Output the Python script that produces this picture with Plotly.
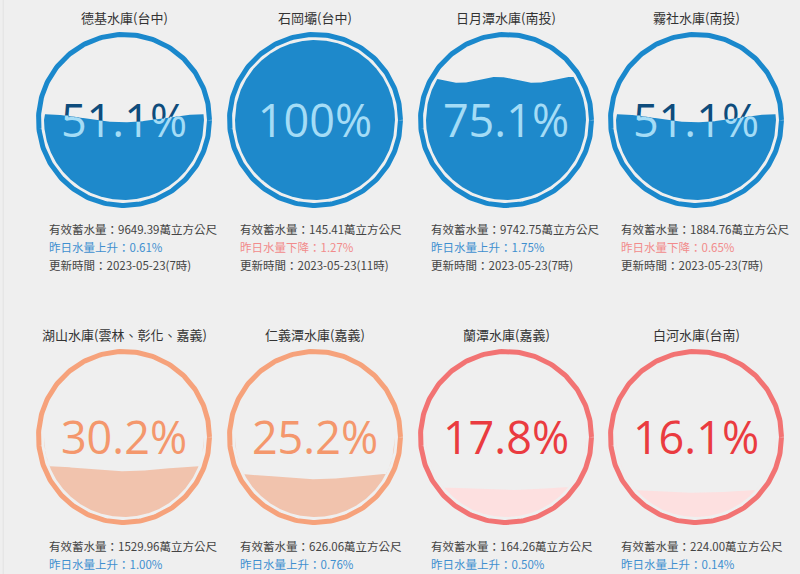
import numpy as np
import plotly.graph_objects as go

# ---------------- data ----------------
names = ["德基水庫(台中)", "石岡壩(台中)", "日月潭水庫(南投)", "霧社水庫(南投)",
         "湖山水庫(雲林、彰化、嘉義)", "仁義潭水庫(嘉義)", "蘭潭水庫(嘉義)", "白河水庫(台南)"]
percent = [51.1, 100, 75.1, 51.1, 30.2, 25.2, 17.8, 16.1]
storage = ["9649.39", "145.41", "9742.75", "1884.76", "1529.96", "626.06", "164.26", "224.00"]
change_dir = ["上升", "下降", "上升", "下降", "上升", "上升", "上升", "上升"]
change_pct = ["0.61", "1.27", "1.75", "0.65", "1.00", "0.76", "0.50", "0.14"]
updated = ["2023-05-23(7時)", "2023-05-23(11時)", "2023-05-23(7時)", "2023-05-23(7時)",
           None, None, None, None]

# ---------------- style ----------------
W, H = 800, 574
BG = "#efefef"
COL_X = [124, 315, 506, 696]
ROW_Y = [120, 437]
R_RING = 85.5
RING_W = 5
R_FILL = 80
# wave style per gauge: (amplitude px, wavelength px, phase)
WAVES = [(4, 160, 0.0), (4, 160, 0.0), (3, 75, 0.3), (4, 160, 0.0),
         (2.5, 160, 0.0), (2.5, 160, 0.0), (1.5, 160, 0.0), (1.5, 160, 0.0)]
THEMES = {
    "blue": dict(ring="#1a88cc", fill="#1e89cb", above="#0e4c7c", below="#a4dcf6"),
    "orange": dict(ring="#f6a27b", fill="#f1c3ad", above="#f4976c", below="#ffffff"),
    "red": dict(ring="#f27373", fill="#fde0e0", above="#ea3b40", below="#ffffff"),
}
UP_COL = "#3f8fcf"
DOWN_COL = "#f28b8b"
TXT_COL = "#444444"
PCT_FONT = "Open Sans, Noto Sans, sans-serif"
CJK_FONT = "Noto Sans CJK TC, sans-serif"
PCT_SIZE = 45
TEXT_DY = 6


def theme_for(p):
    if p >= 50:
        return THEMES["blue"]
    if p >= 20:
        return THEMES["orange"]
    return THEMES["red"]


def wave_y(x, cx, cy, p, wv):
    amp, wl, ph = wv
    level = cy + R_FILL - 2 * R_FILL * p / 100.0
    if p >= 100:
        return np.full_like(x, cy - R_FILL - 10, dtype=float)
    return level - amp * np.cos(2 * np.pi * (x - (cx - R_FILL)) / wl + ph)


fig = go.Figure()
annotations = []
axis_k = [2]
extra_axes = {}

for i, name in enumerate(names):
    cx = COL_X[i % 4]
    cy = ROW_Y[i // 4]
    p = percent[i]
    th = theme_for(p)
    wv = WAVES[i]
    label = f"{p:g}%"
    ty = cy + TEXT_DY

    # ring
    t = np.linspace(0, 2 * np.pi, 241)
    fig.add_trace(go.Scatter(x=cx + R_RING * np.cos(t), y=cy + R_RING * np.sin(t), mode="lines",
                             line=dict(color=th["ring"], width=RING_W), hoverinfo="skip"))

    # text above water (drawn beneath water)
    level = cy + R_FILL - 2 * R_FILL * p / 100.0
    text_top, text_bot = cy - 18, cy + 18
    fully_below = level < text_top - 6
    if not fully_below:
        fig.add_trace(go.Scatter(x=[cx], y=[ty], mode="text", text=[label],
                                 textfont=dict(family=PCT_FONT, size=PCT_SIZE, color=th["above"]),
                                 hoverinfo="skip"))

    # water polygon
    xs = np.linspace(cx - R_FILL, cx + R_FILL, 321)
    dx = xs - cx
    half = np.sqrt(np.clip(R_FILL ** 2 - dx ** 2, 0, None))
    ytop_c = cy - half
    ybot_c = cy + half
    wy = wave_y(xs, cx, cy, p, wv)
    top = np.minimum(np.maximum(wy, ytop_c), ybot_c)
    px = np.concatenate([xs, xs[::-1]])
    py = np.concatenate([top, ybot_c[::-1]])
    fig.add_trace(go.Scatter(x=px, y=py, mode="lines", fill="toself", fillcolor=th["fill"],
                             line=dict(width=0, color=th["fill"]), hoverinfo="skip"))

    if fully_below:
        fig.add_trace(go.Scatter(x=[cx], y=[ty], mode="text", text=[label],
                                 textfont=dict(family=PCT_FONT, size=PCT_SIZE, color=th["below"]),
                                 hoverinfo="skip"))
    elif level < text_bot + 6:
        # text crosses the water line: light text clipped under the wave via narrow strips
        step = 6
        for x0 in range(int(cx - R_FILL), int(cx + R_FILL), step):
            x1 = x0 + step
            yb = float(wave_y(np.array([x0 + step / 2.0]), cx, cy, p, wv)[0])
            k = axis_k[0]
            axis_k[0] += 1
            extra_axes[f"xaxis{k}"] = dict(domain=[x0 / W, x1 / W], range=[x0, x1], visible=False,
                                           fixedrange=True, anchor=f"y{k}")
            extra_axes[f"yaxis{k}"] = dict(domain=[0, (H - yb) / H], range=[H, yb], visible=False,
                                           fixedrange=True, anchor=f"x{k}")
            fig.add_trace(go.Scatter(x=[cx], y=[ty], mode="text", text=[label], cliponaxis=True,
                                     textfont=dict(family=PCT_FONT, size=PCT_SIZE, color=th["below"]),
                                     xaxis=f"x{k}", yaxis=f"y{k}", hoverinfo="skip"))

    # title
    annotations.append(dict(x=cx, y=cy - 103, text=name, showarrow=False, xanchor="center",
                            yanchor="middle", font=dict(family=CJK_FONT, size=13, color="#333333")))
    # info lines
    ix = cx - 77
    lines = [(f"有效蓄水量：{storage[i]}萬立方公尺", TXT_COL),
             (f"昨日水量{change_dir[i]}：{change_pct[i]}%", UP_COL if change_dir[i] == "上升" else DOWN_COL)]
    if updated[i]:
        lines.append((f"更新時間：{updated[i]}", TXT_COL))
    for j, (txt, col) in enumerate(lines):
        annotations.append(dict(x=ix, y=cy + 109 + j * 18, text=txt, showarrow=False, xanchor="left",
                                yanchor="middle", font=dict(family=CJK_FONT, size=11.5, color=col)))

fig.update_layout(
    width=W, height=H, margin=dict(l=0, r=0, t=0, b=0, pad=0),
    paper_bgcolor=BG, plot_bgcolor="rgba(0,0,0,0)", showlegend=False,
    xaxis=dict(range=[0, W], visible=False, fixedrange=True),
    yaxis=dict(range=[H, 0], visible=False, fixedrange=True),
    annotations=annotations,
    shapes=[dict(type="line", xref="paper", yref="paper", x0=0.004, x1=0.004, y0=0, y1=1,
                 line=dict(color="#e2e2e2", width=1))],
    **extra_axes,
)

fig.write_html("out.html", config={"displayModeBar": False})
